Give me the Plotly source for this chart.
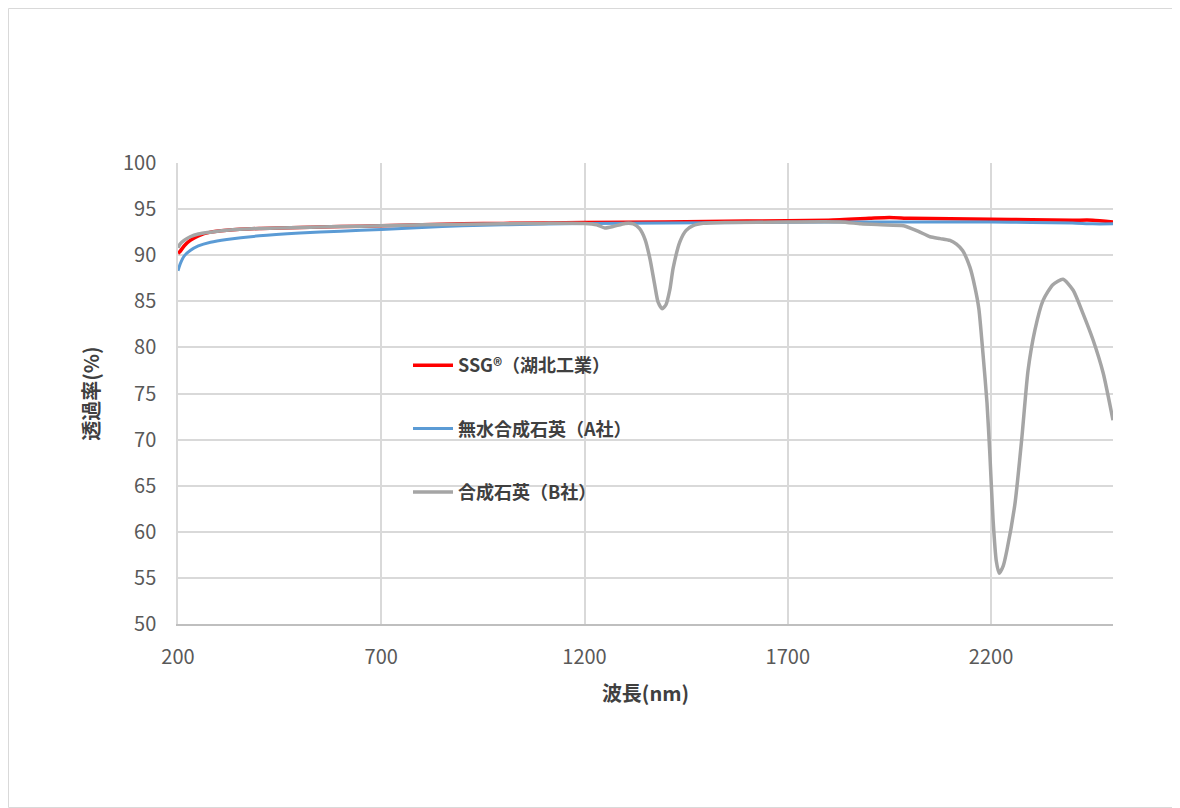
import plotly.graph_objects as go

# ---------------------------------------------------------------------------
# data (wavelength nm, transmittance %)

ssg_wl = [200, 205, 215, 230, 250, 280, 320, 400, 500, 600, 700, 800, 900,
          1000, 1200, 1400, 1600, 1800, 1900, 1950, 2000, 2100, 2200, 2300,
          2400, 2450, 2500]
ssg_tr = [90.2, 90.4, 91.0, 91.6, 92.1, 92.5, 92.7, 92.9, 93.0, 93.1, 93.2,
          93.3, 93.4, 93.45, 93.55, 93.6, 93.7, 93.8, 94.0, 94.1, 94.0, 93.95,
          93.9, 93.85, 93.8, 93.8, 93.6]

a_wl = [200, 205, 215, 230, 250, 280, 320, 400, 500, 600, 700, 800, 900,
        1000, 1200, 1400, 1600, 1800, 2000, 2200, 2300, 2400, 2450, 2500]
a_tr = [88.3, 89.0, 89.9, 90.5, 91.0, 91.4, 91.7, 92.1, 92.4, 92.6, 92.8,
        93.0, 93.2, 93.3, 93.45, 93.5, 93.55, 93.6, 93.6, 93.6, 93.55, 93.5,
        93.4, 93.4]

b_wl = [200, 205, 215, 230, 250, 280, 320, 400, 500, 600, 700, 800, 900,
        1000, 1100, 1200, 1230, 1250, 1270, 1300, 1320, 1335, 1349, 1361,
        1373, 1381, 1391, 1400, 1410, 1418, 1435, 1450, 1467, 1492, 1550,
        1700, 1830, 1880, 1930, 1985, 2020, 2050, 2075, 2099, 2115, 2130,
        2148, 2160, 2170, 2180, 2190, 2197, 2205, 2213, 2220, 2230, 2239,
        2259, 2276, 2291, 2308, 2328, 2352, 2377, 2402, 2426, 2451, 2476,
        2500]
b_tr = [90.8, 91.2, 91.6, 92.0, 92.3, 92.5, 92.7, 92.9, 93.0, 93.1, 93.2,
        93.3, 93.35, 93.4, 93.45, 93.45, 93.3, 92.95, 93.1, 93.45, 93.4, 92.9,
        91.7, 89.6, 86.7, 84.9, 84.2, 84.6, 86.3, 88.6, 91.5, 92.7, 93.2,
        93.45, 93.55, 93.6, 93.6, 93.4, 93.3, 93.2, 92.6, 92.0, 91.8, 91.6,
        91.2, 90.5, 88.7, 86.6, 84.2, 79.4, 74.0, 68.5, 61.3, 56.8, 55.5,
        56.3, 58.0, 63.1, 70.3, 77.5, 81.9, 85.1, 86.8, 87.4, 86.2, 83.7,
        80.8, 77.2, 72.1]

names = ['SSG®（湖北工業）', '無水合成石英（A社）', '合成石英（B社）']
colors = ['#FF0000', '#5B9BD5', '#A5A5A5']

x_ticks = [200, 700, 1200, 1700, 2200]
y_ticks = list(range(50, 101, 5))

FONT = 'Noto Sans CJK JP'

# ---------------------------------------------------------------------------

fig = go.Figure()
series = [(ssg_wl, ssg_tr, 3.5), (a_wl, a_tr, 3), (b_wl, b_tr, 3.5)]
for i, (wl, tr, w) in enumerate(series):
    fig.add_trace(go.Scatter(x=wl, y=tr, mode='lines', name=names[i],
                             legendgroup=f'g{i}',
                             line=dict(color=colors[i], width=w,
                                       shape='spline', smoothing=0.6)))

# page body has an 8px margin, so the figure is a bit smaller than the window
W, H = 1172, 800
L, R, T, B = 170, 1105, 155, 616
pw, ph = R - L, B - T

fig.update_layout(
    width=W, height=H,
    margin=dict(l=L, r=W - R, t=T, b=H - B),
    paper_bgcolor='white', plot_bgcolor='white',
    font=dict(family=FONT, color='#595959', size=20),
    showlegend=True,
    legend=dict(x=(400 - L) / pw, y=(B - 339) / ph, xanchor='left',
                yanchor='top', bgcolor='rgba(0,0,0,0)', tracegroupgap=37,
                itemwidth=40,
                font=dict(family=FONT, size=18, color='#404040',
                          weight='bold')),
    xaxis=dict(range=[200, 2500], tickvals=x_ticks, showgrid=True,
               gridcolor='#D9D9D9', gridwidth=1.5, showline=True,
               linecolor='#BFBFBF', linewidth=1.5, ticks='', zeroline=False,
               ticklabelstandoff=14,
               title=dict(text='<b>波長(nm)</b>', standoff=18,
                          font=dict(size=20, color='#404040'))),
    yaxis=dict(range=[50, 100], tickvals=y_ticks, showgrid=True,
               gridcolor='#D9D9D9', gridwidth=1.5, showline=True,
               linecolor='#D9D9D9', linewidth=1.5, ticks='', zeroline=False,
               ticklabelstandoff=16,
               title=dict(text='<b>透過率(%)</b>', standoff=18,
                          font=dict(size=20, color='#404040'))),
)

# outer frame of the chart area
fig.add_shape(type='rect', xref='paper', yref='paper',
              x0=(0.5 - L) / pw, x1=(W - 0.5 - L) / pw,
              y0=(B - (H - 0.5)) / ph, y1=(B - 0.5) / ph,
              line=dict(color='#D9D9D9', width=1))

fig.write_html('out.html')
